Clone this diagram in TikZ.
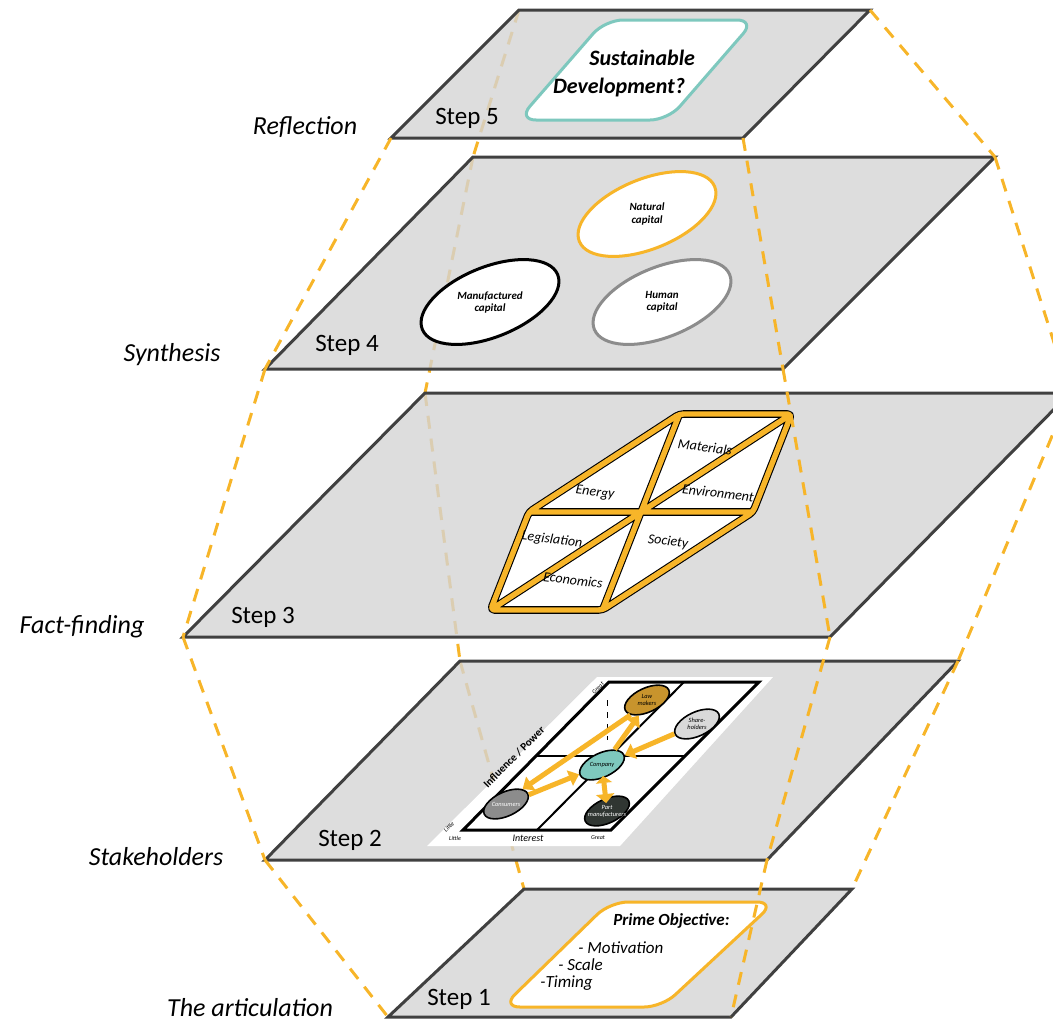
\documentclass[tikz,border=0pt]{standalone}
\usepackage{fontspec}
\setmainfont{Carlito}
\usepackage{xcolor}
\usepackage{tikz}
\usetikzlibrary{arrows.meta, shapes.geometric}
\definecolor{gold}{RGB}{247,181,41}
\definecolor{planegray}{RGB}{212,212,212}
\definecolor{edgegray}{RGB}{64,64,64}
\definecolor{sdteal}{RGB}{126,200,190}
\definecolor{lawbrown}{RGB}{200,148,45}
\definecolor{sharegray}{RGB}{217,217,217}
\definecolor{midgray}{RGB}{140,140,140}
\definecolor{partdark}{RGB}{48,54,50}

\begin{document}
\begin{tikzpicture}[x=0.5pt, y=-0.5pt,
  guide/.style={gold, line width=1.5pt, dash pattern=on 6.5pt off 5pt},
  plane/.style={fill=planegray, fill opacity=0.8, draw=edgegray, line width=1.5pt},
  stage/.style={font=\fontsize{13}{15}\selectfont\itshape},
  steplbl/.style={font=\fontsize{12.5}{15}\selectfont},
  capell/.style={ellipse, fill=white, line width=1.5pt, minimum width=73pt, minimum height=35pt, rotate=22, inner sep=0pt},
  captxt/.style={font=\fontsize{5.5}{6}\selectfont\bfseries\itshape, align=center},
  cell/.style={font=\fontsize{7}{8}\selectfont\itshape, rotate=-7},
  stk/.style={ellipse, draw=black, line width=0.8pt, minimum width=24pt, minimum height=12pt, rotate=25, inner sep=0pt},
  stktxt/.style={font=\fontsize{3.2}{3.6}\selectfont\itshape, align=center},
  stkarrow/.style={gold, line width=2.5pt, -{Triangle[length=5pt,width=8pt]}},
  axtxt/.style={font=\fontsize{3}{3.5}\selectfont\itshape}]
\useasboundingbox (0,0) rectangle (1053,1023);
\clip (0,0) rectangle (1053,1023);
%%── Plane corners ────────────────────────────────────────
\coordinate (tl5) at (519,10);  \coordinate (tr5) at (870,10);
\coordinate (br5) at (743,138); \coordinate (bl5) at (391,138);
\coordinate (tl4) at (473,157); \coordinate (tr4) at (995,157);
\coordinate (br4) at (783,369); \coordinate (bl4) at (265,369);
\coordinate (tl3) at (425,393); \coordinate (tr3) at (1070,393);
\coordinate (br3) at (830,637); \coordinate (bl3) at (183,637);
\coordinate (tl2) at (460,661); \coordinate (tr2) at (958,661);
\coordinate (br2) at (767,860); \coordinate (bl2) at (265,860);
\coordinate (tl1) at (524,889); \coordinate (tr1) at (852,889);
\coordinate (br1) at (731,1017);\coordinate (bl1) at (388,1017);
%%── Guides seen through the planes ───────────────────────
\foreach \a/\b in {5/4,4/3,3/2,2/1}
  \draw[guide] (tl\a) -- (tl\b);
%%── Planes ───────────────────────────────────────────────
\foreach \s in {1,...,5}
  \draw[plane] (tl\s) -- (tr\s) -- (br\s) -- (bl\s) -- cycle;
%%── Stage names ──────────────────────────────────────────
\node[stage] (lrefl) at (305,127)  {Reflection};
\node[stage] (lsynt) at (172,355)  {Synthesis};
\node[stage] (lfact) at (82,627)   {Fact-finding};
\node[stage] (lstak) at (156,857)  {Stakeholders};
\node[stage] (lartc) at (250,1008) {The articulation};
%%── Step labels ──────────────────────────────────────────
\node[steplbl] (step5) at (467,118) {Step 5};
\node[steplbl] (step4) at (347,345) {Step 4};
\node[steplbl] (step3) at (263,617) {Step 3};
\node[steplbl] (step2) at (350,840) {Step 2};
\node[steplbl] (step1) at (459,999) {Step 1};
%%── Step 5: reflection box ───────────────────────────────
\draw[sdteal, line width=1.5pt, fill=white, rounded corners=9pt]
  (605,20) -- (755,20) -- (668,120) -- (518,120) -- cycle;
\node[font=\fontsize{11}{14}\selectfont\bfseries\itshape, align=right] (sdtxt)
  at (624,74) {Sustainable\\Development?\hspace*{5pt}};
%%── Step 4: capitals ─────────────────────────────────────
\node[capell, draw=gold]    (nat) at (647,214) {};
\node[capell, draw=black]   (man) at (490,302) {};
\node[capell, draw=midgray] (hum) at (662,302) {};
\node[captxt] (nattxt) at (nat) {Natural\\capital};
\node[captxt] (mantxt) at (man) {Manufactured\\capital};
\node[captxt] (humtxt) at (hum) {Human\\capital};
%%── Step 3: fact grid ────────────────────────────────────
\coordinate (hO) at (641,512);
\coordinate (hA) at (679.5,414); \coordinate (hB) at (791.5,414);
\coordinate (hC) at (753,512);   \coordinate (hD) at (602.5,610);
\coordinate (hE) at (490.5,610); \coordinate (hF) at (529,512);
\fill[white] (hA) -- (hB) -- (hC) -- (hD) -- (hE) -- (hF) -- cycle;
\foreach \c/\w in {black/3.8pt, gold/2.7pt}
  \draw[\c, line width=\w, line join=round, rounded corners=2pt]
    (hA) -- (hB) -- (hC) -- (hD) -- (hE) -- (hF) -- cycle
    (hA) -- (hD) (hF) -- (hC) (hE) -- (hB);
\node[cell] (energy) at (595,493) {Energy};
\node[cell] (mater)  at (705,447) {Materials};
\node[cell] (envir)  at (718,493) {Environment};
\node[cell] (legis)  at (552,540) {Legislation};
\node[cell] (socie)  at (668,542) {Society};
\node[cell] (econo)  at (573,580) {Economics};
%%── Step 2: stakeholder map ──────────────────────────────
\fill[white] (597,677) -- (773,677) -- (620,846) -- (427,846) -- cycle;
\draw[black, line width=1.5pt] (463,830) -- (611,830) -- (759,682) -- (609,682) -- cycle;
\draw[black, line width=1pt] (536,756) -- (685,756);
\draw[black, line width=1pt] (684,682) -- (537,830);
\draw[black, line width=0.5pt, dashed] (607,700) -- (607,740);
\node[font=\fontsize{5.5}{6}\selectfont\bfseries, rotate=45] (infl) at (514,757) {Influence / Power};
\node[font=\fontsize{5}{6}\selectfont\itshape] (intr) at (528,838) {Interest};
\node[axtxt] (lowx) at (455,838) {Little};
\node[axtxt] (higx) at (598,838) {Great};
\node[axtxt, rotate=45] (lowy) at (449,827) {Little};
\node[axtxt, rotate=45] (higy) at (598,688) {Great};
\node[stk, fill=lawbrown]  (law)   at (647,700) {};
\node[stk, fill=sharegray] (share) at (697,724) {};
\node[stk, fill=sdteal]    (comp)  at (602,765) {};
\node[stk, fill=midgray]   (cons)  at (506,804) {};
\node[stk, fill=partdark]  (part)  at (607,811) {};
\node[stktxt] (lawtxt)   at (law)   {Law\\makers};
\node[stktxt] (sharetxt) at (share) {Share-\\holders};
\node[stktxt] (comptxt)  at (comp)  {Company};
\node[stktxt, white] (constxt) at (cons) {Consumers};
\node[stktxt, white] (parttxt) at (part) {Part\\manufacturers};
\draw[stkarrow] (law.197) -- (cons.17);
\draw[stkarrow] (comp.26) -- (law.217);
\draw[stkarrow] (share) -- (comp);
\draw[stkarrow] (cons) -- (comp);
\draw[gold, line width=2.5pt, {Triangle[length=3.5pt,width=8pt]}-{Triangle[length=4.5pt,width=9pt]},
  shorten <=5.5pt, shorten >=4pt] (comp.center) -- (part.center);
%%── Step 1: prime objective ──────────────────────────────
\draw[gold, line width=1.5pt, fill=white, rounded corners=9pt]
  (610,902) -- (775,902) -- (662,1007) -- (502,1007) -- cycle;
\node[font=\fontsize{8.5}{8.5}\selectfont\itshape, align=left, anchor=north west, inner sep=0pt] (objtxt)
  at (540,913) {\hspace*{36.5pt}{\bfseries Prime Objective:}\\[5.5pt]
  \hspace*{19pt}- Motivation\\ \hspace*{9pt}- Scale\\ -Timing};
%%── Guides in front ──────────────────────────────────────
\foreach \a/\b in {5/4,4/3,3/2,2/1} {
  \draw[guide] (bl\a) -- (bl\b);
  \draw[guide] (tr\a) -- (tr\b);
  \draw[guide] (br\a) -- (br\b);
}
\end{tikzpicture}
\end{document}
